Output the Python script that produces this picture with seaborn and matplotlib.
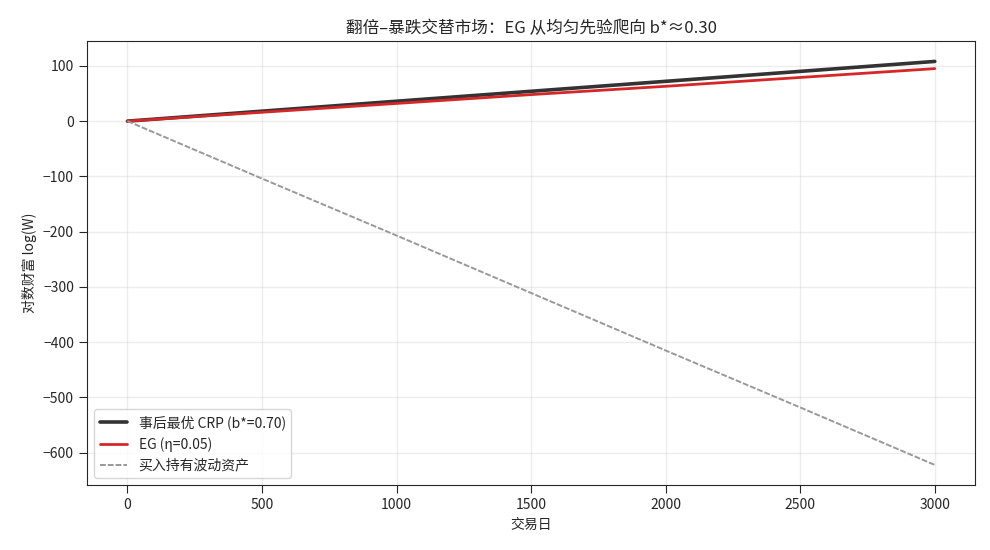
import matplotlib
matplotlib.use("Agg")
import matplotlib.pyplot as plt
import seaborn as sns
import pandas as pd

sns.set_theme(style="ticks")
plt.rcParams['font.family'] = ['Noto Sans CJK SC', 'DejaVu Sans']
plt.rcParams['axes.unicode_minus'] = True

# values every 500 trading days
days = [0, 500, 1000, 1500, 2000, 2500, 3000]
crp_best = [0, 18, 36, 54, 72, 90, 108]
eg_wealth = [0, 16, 32, 48, 63, 79, 95]
buy_hold = [0, -104, -207, -311, -415, -518, -622]

df = pd.DataFrame({'day': days, 'crp': crp_best, 'eg': eg_wealth, 'bh': buy_hold})

fig, ax = plt.subplots(figsize=(9.9, 5.5), dpi=100)
sns.lineplot(data=df, x='day', y='crp', ax=ax, color='#333333', lw=2.6,
             label='事后最优 CRP (b*=0.70)')
sns.lineplot(data=df, x='day', y='eg', ax=ax, color='#d62728', lw=2.0,
             label='EG (η=0.05)')
sns.lineplot(data=df, x='day', y='bh', ax=ax, color='#999999', lw=1.4,
             linestyle=(0, (3, 1)), label='买入持有波动资产')

ax.set_title('翻倍–暴跌交替市场：EG 从均匀先验爬向 b*≈0.30', fontsize=12)
ax.set_xlabel('交易日', fontsize=10)
ax.set_ylabel('对数财富 log(W)', fontsize=10)
ax.set_xticks([0, 500, 1000, 1500, 2000, 2500, 3000])
ax.set_yticks(range(-600, 101, 100))
ax.grid(True, alpha=0.35)
ax.tick_params(labelsize=10, width=0.8)
for s in ax.spines.values():
    s.set_linewidth(0.8)
ax.legend(loc='lower left', fontsize=10, frameon=True)

fig.subplots_adjust(left=0.088, right=0.985, top=0.925, bottom=0.118)
fig.savefig('out.png')
